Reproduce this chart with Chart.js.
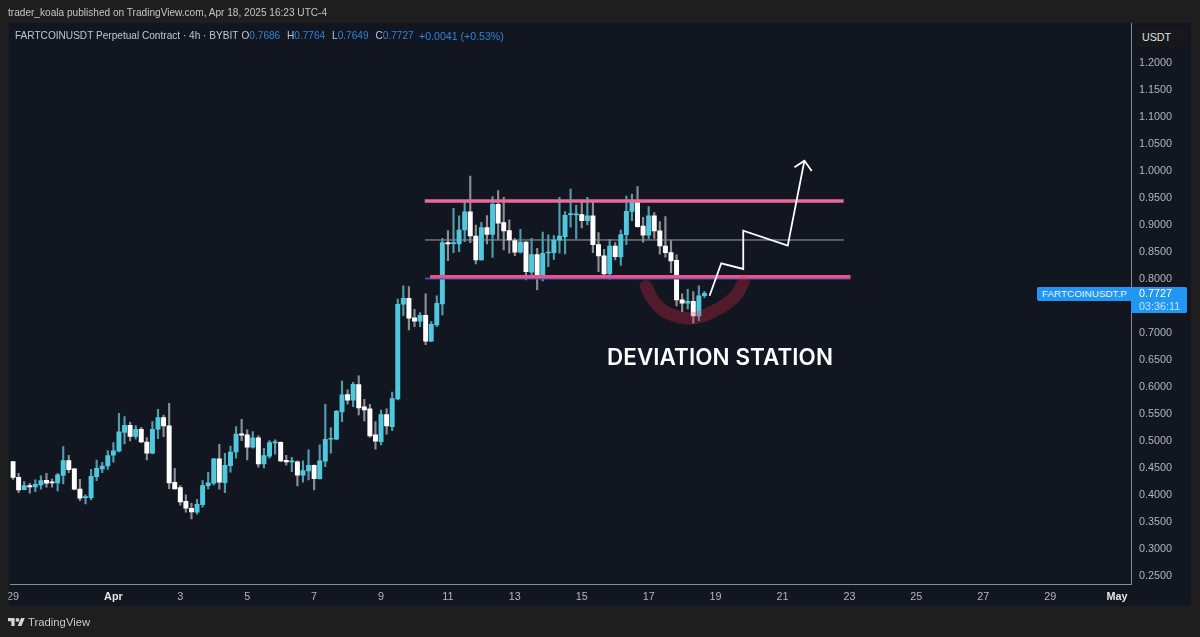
<!DOCTYPE html>
<html><head><meta charset="utf-8">
<style>
html,body{margin:0;padding:0;background:#1e1e1e;width:1200px;height:637px;overflow:hidden}
#wrap{position:relative;width:1200px;height:637px;font-family:"Liberation Sans",Arial,sans-serif}
canvas{position:absolute;left:0;top:0}
.t{position:absolute;white-space:nowrap;line-height:1;font-size:10.1px;color:#c3c6ce}
.v{color:#2f83d6}
</style></head><body>
<div id="wrap">
<canvas id="c" width="1200" height="637"></canvas>
<div class="t" style="left:8px;top:8px;color:#c4c4c4">trader_koala published on TradingView.com, Apr 18, 2025 16:23 UTC-4</div>
<div class="t" style="left:15px;top:31px">FARTCOINUSDT Perpetual Contract · 4h · BYBIT</div>
<div class="t" style="left:241.5px;top:31px">O<span class="v">0.7686</span></div>
<div class="t" style="left:287px;top:31px">H<span class="v">0.7764</span></div>
<div class="t" style="left:332px;top:31px">L<span class="v">0.7649</span></div>
<div class="t" style="left:375.5px;top:31px">C<span class="v">0.7727</span></div>
<div class="t v" style="left:419px;top:31px;color:#2f83d6;font-size:10.6px">+0.0041 (+0.53%)</div>
<div class="t" style="left:1135px;top:27px;width:52px;height:20px;background:#17181c;border-radius:3px;color:#e0e0e0;font-size:10.7px;line-height:20px;text-indent:7px">USDT</div>
<div class="t" style="left:607px;top:345.5px;font-family:Inter;font-size:22.4px;font-weight:600;color:#fff;letter-spacing:0.1px">DEVIATION STATION</div>
<div class="t" style="left:1037px;top:287px;width:94px;height:14px;background:#2196f3;border-radius:2px 0 0 2px;color:#e8f4ff;font-size:9.9px;line-height:14px;text-indent:5px">FARTCOINUSDT.P</div>
<div class="t" style="left:1131px;top:287px;width:48px;height:26px;padding-left:8px;background:#2196f3;border-radius:0 2px 2px 0;color:#fff;font-size:10.8px;line-height:12.6px">0.7727<br><span style="color:#c4e3fc">03:36:11</span></div>
<svg style="position:absolute;left:8px;top:617.5px" width="17" height="8.5" viewBox="0 4 36 18"><path fill="#d4d4d4" d="M14 22H7V11H0V4h14v18zM28 22h-8l7.5-18h8L28 22z"/><circle fill="#d4d4d4" cx="20" cy="8" r="4"/></svg>
<div class="t" style="left:28px;top:616.5px;font-size:11.3px;color:#c8c8c8">TradingView</div>
</div>
<script src="https://cdn.jsdelivr.net/npm/chart.js@4"></script>
<script>
const opens=[.4612,.4322,.4094,.4168,.4143,.4181,.4267,.4236,.4218,.4359,.4631,.4477,.4106,.3946,.3946,.4335,.4477,.4532,.4730,.4804,.5155,.5285,.5081,.5211,.4976,.4767,.5211,.5427,.5273,.4230,.4131,.3878,.3749,.3675,.3816,.4168,.4211,.4662,.4224,.4538,.4791,.5125,.5107,.4878,.5051,.4570,.4712,.4958,.4971,.4638,.4607,.4607,.4360,.4440,.4545,.4298,.4619,.5026,.5026,.5532,.5853,.5748,.6038,.5625,.5588,.5107,.4983,.5483,.5261,.5772,.7527,.7638,.7274,.7212,.7323,.6842,.7144,.7533,.8668,.8649,.8643,.8902,.9236,.8791,.8347,.8946,.8822,.9377,.9038,.8890,.8705,.8489,.8680,.8119,.8446,.8051,.8477,.8483,.8711,.8779,.9186,.9180,.9186,.9075,.9162,.8631,.8421,.8094,.8606,.8403,.8816,.9248,.9415,.8976,.8804,.9162,.8884,.8606,.8483,.8341,.7607,.7545,.7582,.7311,.7686];
const highs=[.4612,.4396,.4242,.4211,.4273,.4347,.4396,.4291,.4396,.4890,.4730,.4489,.4285,.3995,.4470,.4643,.4600,.4816,.4964,.5507,.5445,.5340,.5279,.5248,.5057,.5353,.5581,.5476,.5692,.4489,.4168,.3995,.3841,.3915,.4261,.4415,.4674,.4933,.4767,.4902,.5260,.5397,.5199,.5168,.5088,.4860,.5002,.5014,.4977,.4730,.4693,.4625,.4625,.4829,.4551,.4922,.5674,.5242,.5563,.6106,.5940,.6081,.6199,.5767,.5674,.5353,.5569,.5588,.5902,.7624,.7866,.7854,.7434,.7372,.7718,.7206,.7681,.8748,.8890,.9303,.9162,.9427,.9902,.8995,.9044,.9168,.9519,.9630,.9507,.9088,.8748,.8915,.8686,.8748,.8563,.8865,.8810,.8798,.9507,.9242,.9661,.9365,.9415,.9507,.9415,.8853,.8545,.8730,.8668,.8902,.9532,.9569,.9705,.9137,.9334,.9223,.9057,.9149,.8705,.8440,.7718,.7804,.7761,.7866,.7764];
const lows=[.4285,.4039,.4088,.4026,.4057,.4100,.4137,.4137,.4069,.4199,.4409,.4088,.3891,.3829,.3903,.4261,.4409,.4470,.4600,.4791,.4939,.4995,.5032,.4964,.4643,.4754,.5038,.5075,.4113,.4100,.3804,.3675,.3551,.3637,.3767,.4106,.4181,.4100,.4039,.4415,.4674,.5002,.4644,.4860,.4508,.4496,.4675,.4749,.4613,.4545,.4428,.4163,.4230,.4274,.4089,.4286,.4520,.4767,.5020,.5353,.5674,.5631,.5477,.5366,.5063,.4841,.4921,.5119,.5187,.5754,.7317,.7051,.7113,.7113,.6780,.6835,.7113,.7329,.8335,.8483,.8501,.8686,.8668,.8273,.8341,.8643,.8396,.8730,.8532,.8471,.8427,.8471,.7977,.8070,.7792,.7958,.8224,.8359,.8471,.8458,.8952,.8736,.8939,.8995,.8483,.8131,.8051,.7989,.8347,.8248,.8631,.9075,.8952,.8674,.8736,.8748,.8452,.8397,.8113,.7496,.7391,.7434,.7175,.7224,.7649];
const closes=[.4322,.4088,.4168,.4143,.4193,.4261,.4211,.4218,.4366,.4631,.4464,.4100,.3934,.3965,.4341,.4489,.4532,.4723,.4810,.5162,.5285,.5081,.5211,.4976,.4767,.5211,.5427,.5273,.4218,.4106,.3866,.3749,.3681,.3823,.4168,.4218,.4662,.4230,.4544,.4791,.5124,.5100,.4878,.5051,.4570,.4724,.4965,.4977,.4625,.4607,.4625,.4360,.4446,.4545,.4298,.4625,.5026,.5045,.5545,.5847,.5748,.6044,.5606,.5569,.5088,.4989,.5483,.5273,.5779,.7526,.7638,.7267,.7212,.7323,.6842,.7156,.7545,.8668,.8643,.8668,.8902,.9236,.8791,.8347,.8946,.8822,.9377,.9026,.8884,.8717,.8489,.8680,.8131,.8446,.8051,.8471,.8495,.8717,.8791,.9174,.9205,.9199,.9075,.9162,.8631,.8421,.8088,.8606,.8409,.8816,.9248,.9415,.8964,.8804,.9162,.8884,.8606,.8483,.8329,.7607,.7545,.7582,.7311,.7681,.7727];
const priceTicks=[0.25,0.3,0.35,0.4,0.45,0.5,0.55,0.6,0.65,0.7,0.75,0.8,0.85,0.9,0.95,1.0,1.05,1.1,1.15,1.2];
const timeTickIndex=[0,18,30,42,54,66,78,90,102,114,126,138,150,162,174,186,198];
const timeTickLabels=['29','Apr','3','5','7','9','11','13','15','17','19','21','23','25','27','29','May'];
const resistanceX=[73.84,148.97], resistanceY=[0.9439,0.9439];
const supportX=[74.8,150.2], supportY=[0.8037,0.8037];
const supportBlueX=[73.9,150.2], supportBlueY=[0.8005,0.8005];
const midX=[73.9,148.97], midY=[0.8717,0.8717];
const pathX=[124.92,127.02,130.96,130.96,138.94,141.93], pathY=[0.7685,0.8285,0.818,0.8889,0.8611,1.0185];
const headX=[140.14,141.93,143.24], headY=[1.0063,1.0185,0.9994];
const brushX=[113.5,114.9,117.4,121.5,125.6,129.4,131.0], brushY=[0.7860,0.7590,0.7365,0.7265,0.7395,0.7660,0.7940];

const zip=(xs,ys)=>xs.map((x,i)=>({x,y:ys[i]}));
const TEAL='#4fc8dd', WHITE='#ffffff';
const isUp=i=>closes[i]>=opens[i];
const lineDs=(d,color,width,order,extra)=>Object.assign({type:'line',data:d,borderColor:color,borderWidth:width,pointRadius:0,tension:0,order,fill:false},extra||{});
const framePlugin={id:'frame',
 beforeDraw(c){const g=c.ctx;g.save();g.fillStyle='#1e1e1e';g.fillRect(0,0,1200,637);g.fillStyle='#121620';g.fillRect(8.5,23,1182.5,583);g.restore();},
 afterDraw(c){const g=c.ctx;g.save();g.fillStyle='#1e1e1e';g.fillRect(0,0,8.5,637);g.restore();}};
new Chart(document.getElementById('c'),{
 data:{datasets:[
  lineDs(zip(brushX,brushY),'rgba(230,40,70,0.3)',12.5,1,{tension:0.4,borderCapStyle:'round',borderJoinStyle:'round'}),
  lineDs(zip(headX,headY),'#ffffff',1.8,2),
  lineDs(zip(pathX,pathY),'#ffffff',1.8,2),
  lineDs(zip(resistanceX,resistanceY),'#ec6a98',3.5,3),
  lineDs(zip(supportX,supportY),'#e8558c',3.5,3),
  lineDs(zip(supportBlueX,supportBlueY),'#3f51b5',2,4),
  {type:'bar',grouped:false,order:5,barThickness:4.3,borderWidth:0,
   data:opens.map((o,i)=>({x:i,y:[Math.min(o,closes[i]),Math.max(o,closes[i])]})),
   backgroundColor:opens.map((o,i)=>isUp(i)?TEAL:WHITE)},
  {type:'bar',grouped:false,order:6,barThickness:1.5,borderWidth:0,
   data:highs.map((h,i)=>({x:i,y:[lows[i],h]})),
   backgroundColor:opens.map((o,i)=>isUp(i)?'#4f9cab':'#8b8e94')},
  lineDs(zip(midX,midY),'#a0a2a7',1,7)
 ]},
 options:{responsive:false,animation:false,devicePixelRatio:1,
  layout:{padding:{left:8.5,top:23,right:9,bottom:31}},
  plugins:{legend:{display:false},tooltip:{enabled:false}},
  scales:{
   x:{type:'linear',offset:false,min:-0.5,max:200.5,grid:{display:false,drawTicks:false,offset:false},border:{color:'#8a8c90',width:1},
      afterBuildTicks(s){s.ticks=timeTickIndex.map(v=>({value:v}));},
      afterFit(s){s.height=22;},
      ticks:{autoSkip:false,maxRotation:0,padding:7,
        callback:(v)=>timeTickLabels[timeTickIndex.indexOf(v)],
        color:(c)=>/[A-Z]/.test(timeTickLabels[c.index])?'#e6e6e6':'#b2b5be',
        font:(c)=>({family:'Liberation Sans',size:10.8,weight:/[A-Z]/.test(timeTickLabels[c.index])?'700':'400'})}},
   y:{type:'linear',position:'right',min:0.2346,max:1.2735,grid:{display:false,drawTicks:false},border:{color:'#8a8c90',width:1},
      afterBuildTicks(s){s.ticks=priceTicks.map(v=>({value:v}));},
      afterFit(s){s.width=60;},
      ticks:{autoSkip:false,padding:8,color:'#b2b5be',font:{family:'Liberation Sans',size:10.8},callback:v=>v.toFixed(4)}}
  }},
 plugins:[framePlugin]
});
</script>
</body></html>
